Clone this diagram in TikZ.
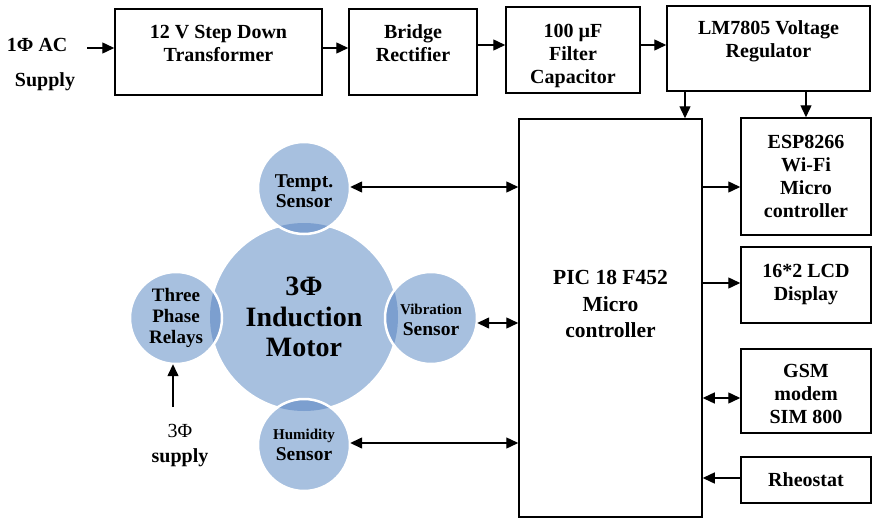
\documentclass[tikz,border=0pt]{standalone}
\usepackage{fontspec}
\setmainfont{Liberation Serif}
\usetikzlibrary{arrows.meta, positioning, calc}
\definecolor{motorblue}{RGB}{167,192,223}
\definecolor{lensblue}{RGB}{124,159,207}

\begin{document}
\begin{tikzpicture}[x=1pt, y=-1pt,
    blk/.style={rectangle, draw, line width=1.5pt, inner sep=0pt, align=center,
                font=\bfseries\fontsize{20}{23}\selectfont},
    arr/.style={-{Triangle[length=12pt,width=11pt]}, line width=1.4pt},
    darr/.style={{Triangle[length=12pt,width=11pt]}-{Triangle[length=12pt,width=11pt]}, line width=1.4pt},
    ball/.style={circle, minimum size=#1, inner sep=0pt, align=center,
                 font=\bfseries\fontsize{19.5}{20.5}\selectfont}
]
    \useasboundingbox (0,0) rectangle (873,519);

    % power supply chain
    \node[align=left, font=\bfseries\fontsize{20}{23}\selectfont] (acin) at (41,65)
        {1Φ AC\\[12pt]\hspace*{8pt}Supply};
    \coordinate (acfeed) at (87,48);
    \node[blk, minimum width=207, minimum height=86, text depth=17pt] (trafo) at (218.5,52)
        {12 V Step Down\\Transformer};
    \node[blk, minimum width=128, minimum height=86, text depth=17pt] (bridge) at (413,52)
        {Bridge\\Rectifier};
    \node[blk, minimum width=134, minimum height=86] (filter) at (573,50)
        {\rule{0pt}{24.5pt}100 µF\\Filter\\Capacitor};
    \node[blk, minimum width=203, minimum height=85, text depth=18pt] (reg) at (768.5,48.5)
        {LM7805 Voltage\\Regulator};

    % controller
    \node[blk, minimum width=183, minimum height=398, text depth=28pt,
          font=\bfseries\fontsize{21.5}{26.5}\selectfont] (pic) at (610.5,318)
        {PIC 18 F452\\Micro\\controller};

    % peripherals
    \node[blk, minimum width=130, minimum height=117] (esp) at (806,176.5)
        {ESP8266\\Wi-Fi\\Micro\\controller};
    \node[blk, minimum width=130, minimum height=76, text depth=6pt] (lcd) at (806,285)
        {16*2 LCD\\Display};
    \node[blk, minimum width=130, minimum height=84] (gsm) at (806,391)
        {\rule{0pt}{19.5pt}GSM\\modem\\SIM 800};
    \node[blk, minimum width=130, minimum height=46] (rheo) at (806,480)
        {Rheostat};

    % motor and sensors
    \node[ball=188pt, fill=motorblue, draw=white, line width=2pt,
          font=\bfseries\fontsize{28}{30.5}\selectfont] (motor) at (304,317)
        {3Φ\\Induction\\Motor};
    \foreach \px/\py in {304/188, 176/318, 431/318, 304/445}{
        \fill[motorblue] (\px,\py) circle (46);
        \begin{scope}
            \clip (\px,\py) circle (46);
            \fill[lensblue] (motor.center) circle (94);
        \end{scope}
        \draw[white, line width=2.5pt] (\px,\py) circle (46);
    }
    \node[ball=92pt] (tempt) at (304,188) {\rule{0pt}{19pt}Tempt.\\Sensor};
    \node[ball=92pt, font=\bfseries\fontsize{19}{21}\selectfont] (relay) at (176,318)
        {Three\\Phase\\Relays};
    \node[ball=92pt] (vib) at (431,318)
        {{\fontsize{15}{18}\selectfont\rule{0pt}{14.3pt}Vibration}\\Sensor};
    \node[ball=92pt] (hum) at (304,445)
        {{\fontsize{15}{18}\selectfont Humidity}\\Sensor};

    \node[align=center, font=\fontsize{20}{25}\selectfont] (supply3) at (180,446)
        {3Φ\\\textbf{supply}};
    \coordinate (feed3) at (173,407);

    % connectors
    \draw[arr] (acfeed) -- (acfeed -| trafo.west);
    \draw[arr] (trafo.east |- 0,48) -- (bridge.west |- 0,48);
    \draw[arr] (bridge.east |- 0,45) -- (filter.west |- 0,45);
    \draw[arr] (filter.east |- 0,45) -- (reg.west |- 0,45);
    \draw[arr] (reg.south -| 685,0) -- (pic.north -| 685,0);
    \draw[arr] (reg.south -| esp.center) -- (esp.north);
    \draw[arr] (pic.east |- 0,187) -- (esp.west |- 0,187);
    \draw[arr] (pic.east |- 0,283) -- (lcd.west |- 0,283);
    \draw[darr] (pic.east |- 0,398) -- (gsm.west |- 0,398);
    \draw[arr] (rheo.west |- 0,478) -- (pic.east |- 0,478);
    \draw[darr] (tempt.east |- 0,187) -- (pic.west |- 0,187);
    \draw[darr] (vib.east |- 0,323) -- (pic.west |- 0,323);
    \draw[darr] (hum.east |- 0,443) -- (pic.west |- 0,443);
    \draw[arr] (feed3) -- (feed3 |- relay.south);
\end{tikzpicture}
\end{document}
